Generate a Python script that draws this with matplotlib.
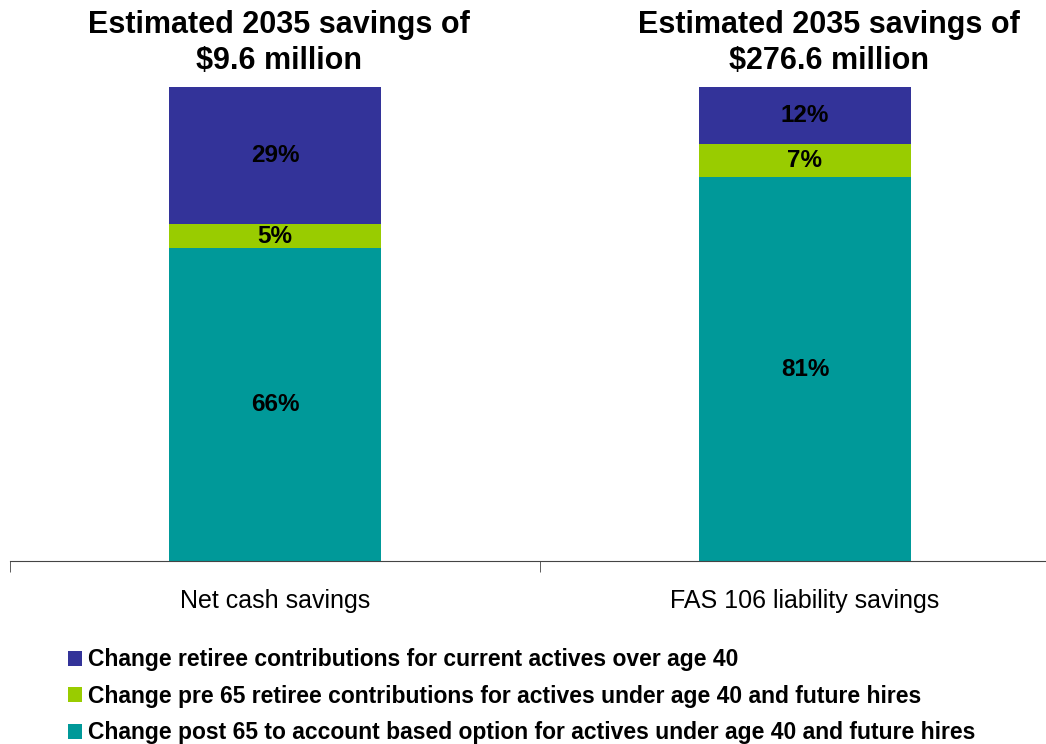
import numpy as np
import matplotlib.pyplot as plt
from matplotlib.patches import Patch

plt.rcParams['font.family'] = ['Liberation Sans', 'DejaVu Sans']

categories = ["Net cash savings", "FAS 106 liability savings"]
titles = ["Estimated 2035 savings of\n$9.6 million",
          "Estimated 2035 savings of\n$276.6 million"]
series_names = [
    "Change post 65 to account based option for actives under age 40 and future hires",
    "Change pre 65 retiree contributions for actives under age 40 and future hires",
    "Change retiree contributions for current actives over age 40",
]
post65 = [66, 81]
pre65 = [5, 7]
over40 = [29, 12]
colors = ["#009999", "#99CC00", "#333399"]

fig = plt.figure(figsize=(10.46, 7.44), dpi=100)
ax = fig.add_axes([10 / 1046, 183 / 744, 1060 / 1046, 474 / 744])

x = np.arange(len(categories))
bottom = np.zeros(len(categories))
for vals, col in zip([post65, pre65, over40], colors):
    vals = np.array(vals, dtype=float)
    ax.bar(x, vals, width=0.4, bottom=bottom, color=col, edgecolor='none')
    for xi, b, v in zip(x, bottom, vals):
        ax.text(xi, b + v / 2, f"{v:.0f}%", ha='center', va='center',
                fontsize=17.5, fontweight='bold', color='black')
    bottom += vals

ax.set_xlim(-0.5, 1.5)
ax.set_ylim(0, 100)
for s in ['top', 'right', 'left']:
    ax.spines[s].set_visible(False)
ax.spines['bottom'].set_color('#444444')
ax.set_yticks([])
ax.set_xticks(x)
ax.set_xticklabels(categories, fontsize=18)
ax.tick_params(axis='x', which='major', length=0, pad=20)
ax.set_xticks([-0.5, 0.5, 1.5], minor=True)
ax.tick_params(axis='x', which='minor', length=8, color='#444444', direction='out')

# headline above each bar
for cx, t in zip([279, 829], titles):
    fig.text(cx / 1046, 1 - 43 / 744, t, ha='center', va='center',
             fontsize=22, fontweight='bold', linespacing=1.25)

handles = [Patch(facecolor=c, edgecolor='none') for c in colors]
leg = fig.legend(handles[::-1], series_names[::-1], loc='upper left',
                 bbox_to_anchor=(59 / 1046, 1 - 639 / 744), frameon=False,
                 prop={'size': 16.5, 'weight': 'bold'},
                 handlelength=0.62, handleheight=0.62, handletextpad=0.25,
                 labelspacing=0.59, borderaxespad=0)

fig.savefig("out.png", dpi=100)
